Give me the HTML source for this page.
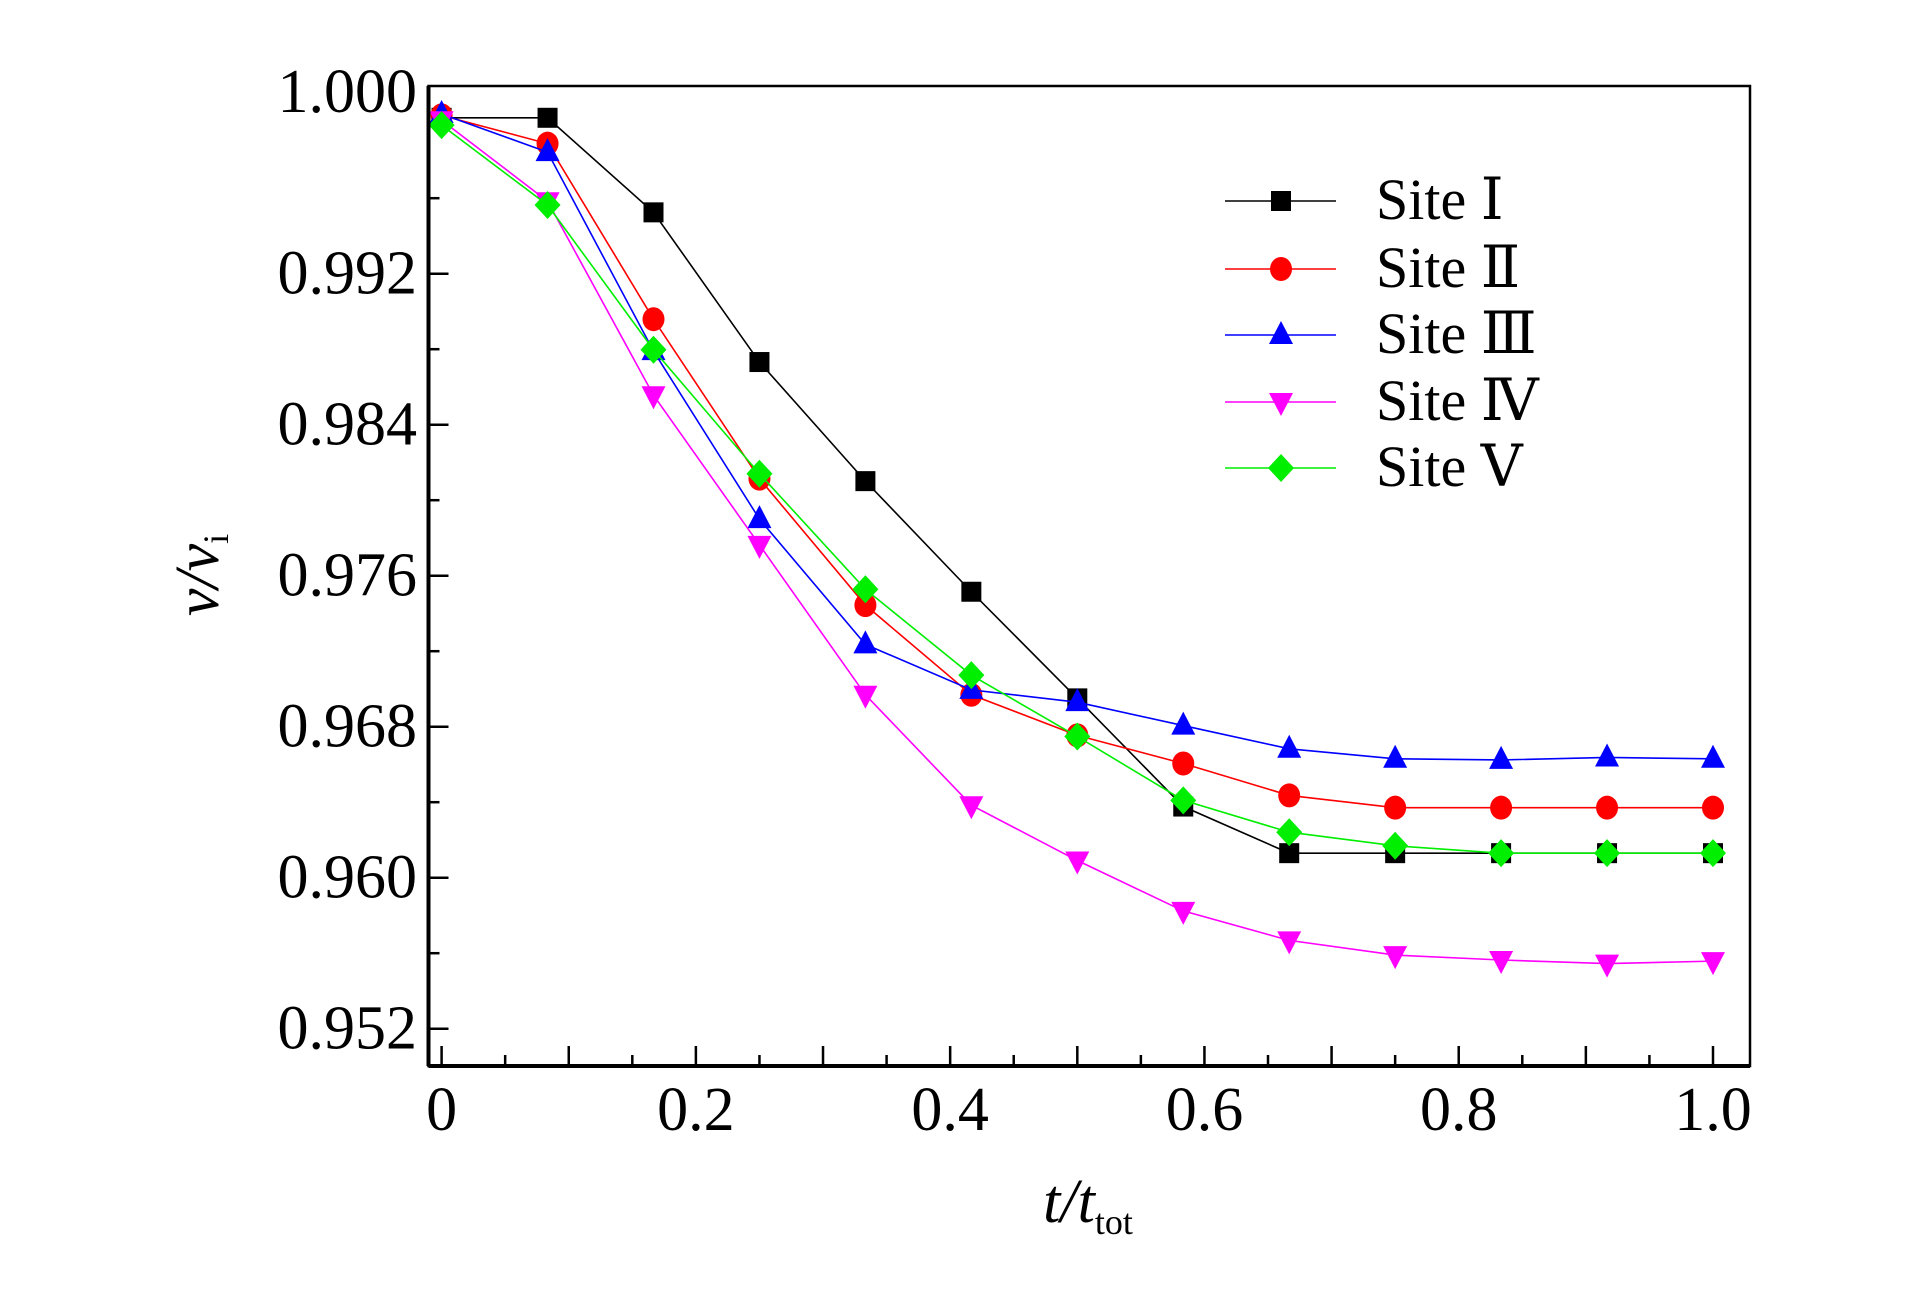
<!DOCTYPE html>
<html><head><meta charset="utf-8"><style>
html,body{margin:0;padding:0;background:#fff;overflow:hidden}
svg{display:block}
text{font-family:"Liberation Serif","DejaVu Serif",serif}
</style></head><body>
<svg id="chart" width="1923" height="1299" viewBox="0 0 1923 1299" xmlns="http://www.w3.org/2000/svg"></svg>
<script>
const xValues=[0,1/12,2/12,3/12,4/12,5/12,6/12,7/12,8/12,9/12,10/12,11/12,1];
const siteI=[1.00026,1.00026,0.99525,0.98732,0.98101,0.97515,0.9695,0.96377,0.9613,0.9613,0.9613,0.9613,0.9613];
const siteII=[1.00039,0.99889,0.98959,0.98114,0.97444,0.96969,0.96754,0.96605,0.96436,0.96371,0.96371,0.96371,0.96371];
const siteIII=[1.00046,0.99844,0.9879,0.979,0.97236,0.96995,0.9693,0.96806,0.96683,0.9663,0.96624,0.96637,0.9663];
const siteIV=[1.00013,0.99584,0.98556,0.97763,0.96969,0.96384,0.96091,0.95824,0.95668,0.9559,0.95564,0.95545,0.95558];
const siteV=[0.99987,0.99564,0.98797,0.9814,0.97528,0.97073,0.96748,0.9641,0.96241,0.96169,0.9613,0.9613,0.9613];
const yTicks=[0.952,0.96,0.968,0.976,0.984,0.992];
const yTickLabels=["0.952","0.960","0.968","0.976","0.984","0.992"];
const xTicks=[0,0.2,0.4,0.6,0.8,1.0];
const xTickLabels=["0","0.2","0.4","0.6","0.8","1.0"];
const seriesNames=["Site \u2160","Site \u2161","Site \u2162","Site \u2163","Site \u2164"];

const NS="http://www.w3.org/2000/svg";
const svg=document.getElementById('chart');
const L=428.5,R=1750,T=86,B=1066;
const X0=441.6,X1=1713;
const sx=v=>X0+(X1-X0)*v;
const sy=v=>273.7-(v-0.992)*18875;
function mk(tag,attrs,parent){const e=document.createElementNS(NS,tag);for(const k in attrs)e.setAttribute(k,attrs[k]);(parent||svg).appendChild(e);return e;}

for(let i=0;i<=20;i++){
  const v=i*0.05,x=sx(v);
  const t=mk('line',{x1:x,x2:x,y1:B,y2:B-(i%2===0?20:11),stroke:'#000','stroke-width':2.5});
  
  
}
for(let k=0;k<=11;k++){
  const v=0.952+k*0.004;
  const y=sy(v);const major=k%2===0;
  const t=mk('line',{x1:L,x2:L+(major?20:11),y1:y,y2:y,stroke:'#000','stroke-width':2.5});
  
  
}
yTicks.forEach((v,i)=>{
  const t=mk('text',{x:417,y:sy(v)+20,'text-anchor':'end','font-size':62});
  t.textContent=yTickLabels[i];
  
  
});
{const t=mk('text',{x:417,y:112,'text-anchor':'end','font-size':62});t.textContent='1.000';

}
xTicks.forEach((v,i)=>{
  const t=mk('text',{x:sx(v),y:1130,'text-anchor':'middle','font-size':62});
  t.textContent=xTickLabels[i];
  
  
});

const colors=['#000000','#ff0000','#0000ff','#ff00ff','#00ee00'];
const shapes=['square','circle','up','down','diamond'];
const data=[siteI,siteII,siteIII,siteIV,siteV];
function marker(shape,x,y,c,g){
  let e;
  if(shape==='square')e=mk('rect',{x:x-10,y:y-10,width:20,height:20,fill:c},g);
  else if(shape==='circle')e=mk('ellipse',{cx:x,cy:y,rx:11,ry:12,fill:c},g);
  else if(shape==='up')e=mk('polygon',{points:`${x},${y-14} ${x+12},${y+9} ${x-12},${y+9}`,fill:c},g);
  else if(shape==='down')e=mk('polygon',{points:`${x},${y+14} ${x+12},${y-9} ${x-12},${y-9}`,fill:c},g);
  else e=mk('polygon',{points:`${x},${y-14} ${x+13},${y} ${x},${y+14} ${x-13},${y}`,fill:c},g);
  return e;
}
data.forEach((arr,s)=>{
  const g=mk('g',{});
  
  
  const pts=arr.map((v,i)=>sx(xValues[i])+','+sy(v)).join(' ');
  const pl=mk('polyline',{points:pts,fill:'none',stroke:colors[s],'stroke-width':1.6},g);
  
  
  arr.forEach((v,i)=>{
    const m=marker(shapes[s],sx(xValues[i]),sy(v),colors[s],g);
    
    
  });
});
{const f=mk('rect',{x:L,y:T,width:R-L,height:B-T,fill:'none',stroke:'#000','stroke-width':2.5});


const b=mk('line',{x1:L,x2:R,y1:B,y2:B,stroke:'#000','stroke-width':4});


const l=mk('line',{x1:L,x2:L,y1:T,y2:B,stroke:'#000','stroke-width':4});

}
const lg=mk('g',{});


const legY=[201,269,335,402,468];
seriesNames.forEach((n,s)=>{
  const y=legY[s];
  const ln=mk('line',{x1:1225,x2:1336,y1:y,y2:y,stroke:colors[s],'stroke-width':1.6},lg);
  
  
  const m=marker(shapes[s],1281,y,colors[s],lg);
  
  
  const t=mk('text',{x:1376,y:y+18,'font-size':58},lg);
  t.textContent=n;
  
  
});
</script>
<svg style="position:absolute;left:0;top:0" width="1923" height="1299">
<text transform="translate(218,575) rotate(-90)" text-anchor="middle" font-size="62" font-family="Liberation Serif, serif" font-style="italic">v/v<tspan font-size="36" font-style="normal" dy="10">i</tspan></text>
<text x="1088" y="1222" text-anchor="middle" font-size="62" font-family="Liberation Serif, serif" font-style="italic">t/t<tspan font-size="36" font-style="normal" dy="12">tot</tspan></text>
</svg>
</body></html>
